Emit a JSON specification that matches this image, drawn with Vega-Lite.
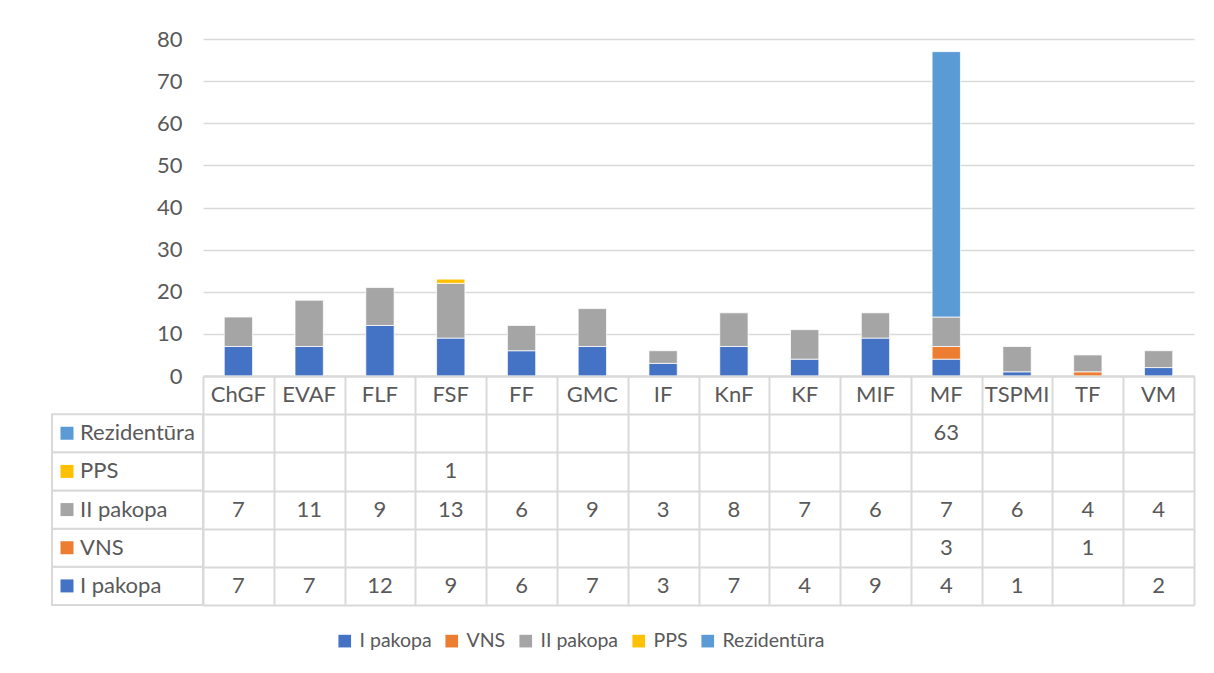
{
  "$schema": "https://vega.github.io/schema/vega-lite/v6.json",
  "padding": {"left": 51, "top": 28, "right": 5, "bottom": 5},
  "autosize": {"type": "pad"},
  "background": "white",
  "config": {
    "view": {"stroke": null},
    "font": "Lato",
    "axis": {"labelFont": "Lato"},
    "legend": {"labelFont": "Lato"},
    "text": {"font": "Lato"}
  },
  "datasets": {
    "rows": [
      {"cat": "ChGF", "series": "I pakopa", "value": 7},
      {"cat": "ChGF", "series": "II pakopa", "value": 7},
      {"cat": "EVAF", "series": "I pakopa", "value": 7},
      {"cat": "EVAF", "series": "II pakopa", "value": 11},
      {"cat": "FLF", "series": "I pakopa", "value": 12},
      {"cat": "FLF", "series": "II pakopa", "value": 9},
      {"cat": "FSF", "series": "I pakopa", "value": 9},
      {"cat": "FSF", "series": "II pakopa", "value": 13},
      {"cat": "FSF", "series": "PPS", "value": 1},
      {"cat": "FF", "series": "I pakopa", "value": 6},
      {"cat": "FF", "series": "II pakopa", "value": 6},
      {"cat": "GMC", "series": "I pakopa", "value": 7},
      {"cat": "GMC", "series": "II pakopa", "value": 9},
      {"cat": "IF", "series": "I pakopa", "value": 3},
      {"cat": "IF", "series": "II pakopa", "value": 3},
      {"cat": "KnF", "series": "I pakopa", "value": 7},
      {"cat": "KnF", "series": "II pakopa", "value": 8},
      {"cat": "KF", "series": "I pakopa", "value": 4},
      {"cat": "KF", "series": "II pakopa", "value": 7},
      {"cat": "MIF", "series": "I pakopa", "value": 9},
      {"cat": "MIF", "series": "II pakopa", "value": 6},
      {"cat": "MF", "series": "I pakopa", "value": 4},
      {"cat": "MF", "series": "VNS", "value": 3},
      {"cat": "MF", "series": "II pakopa", "value": 7},
      {"cat": "MF", "series": "Rezidentūra", "value": 63},
      {"cat": "TSPMI", "series": "I pakopa", "value": 1},
      {"cat": "TSPMI", "series": "II pakopa", "value": 6},
      {"cat": "TF", "series": "VNS", "value": 1},
      {"cat": "TF", "series": "II pakopa", "value": 4},
      {"cat": "VM", "series": "I pakopa", "value": 2},
      {"cat": "VM", "series": "II pakopa", "value": 4}
    ],
    "series": [
      {"series": "I pakopa", "rank": 1},
      {"series": "VNS", "rank": 2},
      {"series": "II pakopa", "rank": 3},
      {"series": "PPS", "rank": 4},
      {"series": "Rezidentūra", "rank": 5}
    ]
  },
  "columns": 2,
  "spacing": {"row": 0, "column": 0},
  "bounds": "flush",
  "resolve": {
    "scale": {"x": "independent", "y": "independent"},
    "legend": {"color": "independent"}
  },
  "concat": [
    {
      "width": 151,
      "height": 337,
      "data": {"values": []},
      "mark": "point"
    },
    {
      "width": 991,
      "height": 337,
      "data": {"name": "rows"},
      "transform": [
        {"lookup": "series", "from": {"data": {"name": "series"}, "key": "series", "fields": ["rank"]}}
      ],
      "mark": {"type": "bar", "stroke": "white", "strokeWidth": 0.75},
      "encoding": {
        "x": {
          "field": "cat",
          "type": "nominal",
          "scale": {
            "domain": ["ChGF", "EVAF", "FLF", "FSF", "FF", "GMC", "IF", "KnF", "KF", "MIF", "MF", "TSPMI", "TF", "VM"],
            "paddingInner": 0.6,
            "paddingOuter": 0.3
          },
          "axis": {
            "title": null,
            "labelAngle": 0,
            "labelOverlap": false,
            "domain": true,
            "domainColor": "#D9D9D9",
            "domainWidth": 2,
            "ticks": false,
            "tickSize": 0,
            "labelPadding": 18.5,
            "labelBaseline": "middle",
            "labelFontSize": 22,
            "labelColor": "#595959",
            "grid": false
          }
        },
        "y": {
          "field": "value",
          "type": "quantitative",
          "stack": "zero",
          "scale": {"domain": [0, 80], "nice": false},
          "axis": {
            "title": null,
            "values": [0, 10, 20, 30, 40, 50, 60, 70, 80],
            "domain": false,
            "ticks": false,
            "labelPadding": 21,
            "labelFontSize": 22,
            "labelColor": "#595959",
            "labelBaseline": "middle",
            "gridColor": "#D9D9D9",
            "gridWidth": 1.5
          }
        },
        "color": {
          "field": "series",
          "type": "nominal",
          "scale": {
            "domain": ["I pakopa", "VNS", "II pakopa", "PPS", "Rezidentūra"],
            "range": ["#4472C4", "#ED7D31", "#A5A5A5", "#FFC000", "#5B9BD5"]
          },
          "legend": {
            "title": null,
            "orient": "none",
            "legendX": 132,
            "legendY": 592,
            "direction": "horizontal",
            "symbolType": "square",
            "symbolSize": 160,
            "symbolStrokeWidth": 0,
            "symbolOpacity": 1,
            "labelFontSize": 19.5,
            "labelColor": "#595959",
            "labelOffset": 5,
            "columnPadding": 10,
            "padding": 0
          }
        },
        "order": {"field": "rank", "type": "quantitative"}
      }
    },
    {
      "width": 151,
      "height": 229,
      "data": {"name": "series"},
      "encoding": {
        "y": {
          "field": "series",
          "type": "nominal",
          "scale": {"type": "band", "domain": ["", "Rezidentūra", "PPS", "II pakopa", "VNS", "I pakopa"], "padding": 0},
          "axis": null
        }
      },
      "layer": [
        {"mark": {"type": "rect", "fill": "white", "stroke": "#D9D9D9", "strokeWidth": 2}},
        {
          "mark": {"type": "point", "shape": "square", "filled": true, "size": 169, "opacity": 1},
          "encoding": {
            "color": {"field": "series", "type": "nominal", "legend": null},
            "xOffset": {"value": -60.5}
          }
        },
        {
          "mark": {"type": "text", "align": "left", "dx": -47.5, "fontSize": 22, "color": "#595959"},
          "encoding": {"text": {"field": "series", "type": "nominal"}}
        }
      ]
    },
    {
      "width": 991,
      "height": 229,
      "data": {"name": "rows"},
      "mark": {"type": "text", "fontSize": 22, "color": "#595959"},
      "encoding": {
        "x": {
          "field": "cat",
          "type": "nominal",
          "scale": {
            "type": "band",
            "domain": ["ChGF", "EVAF", "FLF", "FSF", "FF", "GMC", "IF", "KnF", "KF", "MIF", "MF", "TSPMI", "TF", "VM"],
            "padding": 0
          },
          "axis": {
            "title": null, "labels": false, "ticks": false, "domain": false,
            "grid": true, "tickBand": "extent", "gridColor": "#D9D9D9", "gridWidth": 2
          }
        },
        "y": {
          "field": "series",
          "type": "nominal",
          "scale": {"type": "band", "domain": ["", "Rezidentūra", "PPS", "II pakopa", "VNS", "I pakopa"], "padding": 0},
          "axis": {
            "title": null, "labels": false, "ticks": false, "domain": false,
            "grid": true, "tickBand": "extent", "gridColor": "#D9D9D9", "gridWidth": 2
          }
        },
        "text": {"field": "value", "type": "quantitative"}
      }
    }
  ]
}
